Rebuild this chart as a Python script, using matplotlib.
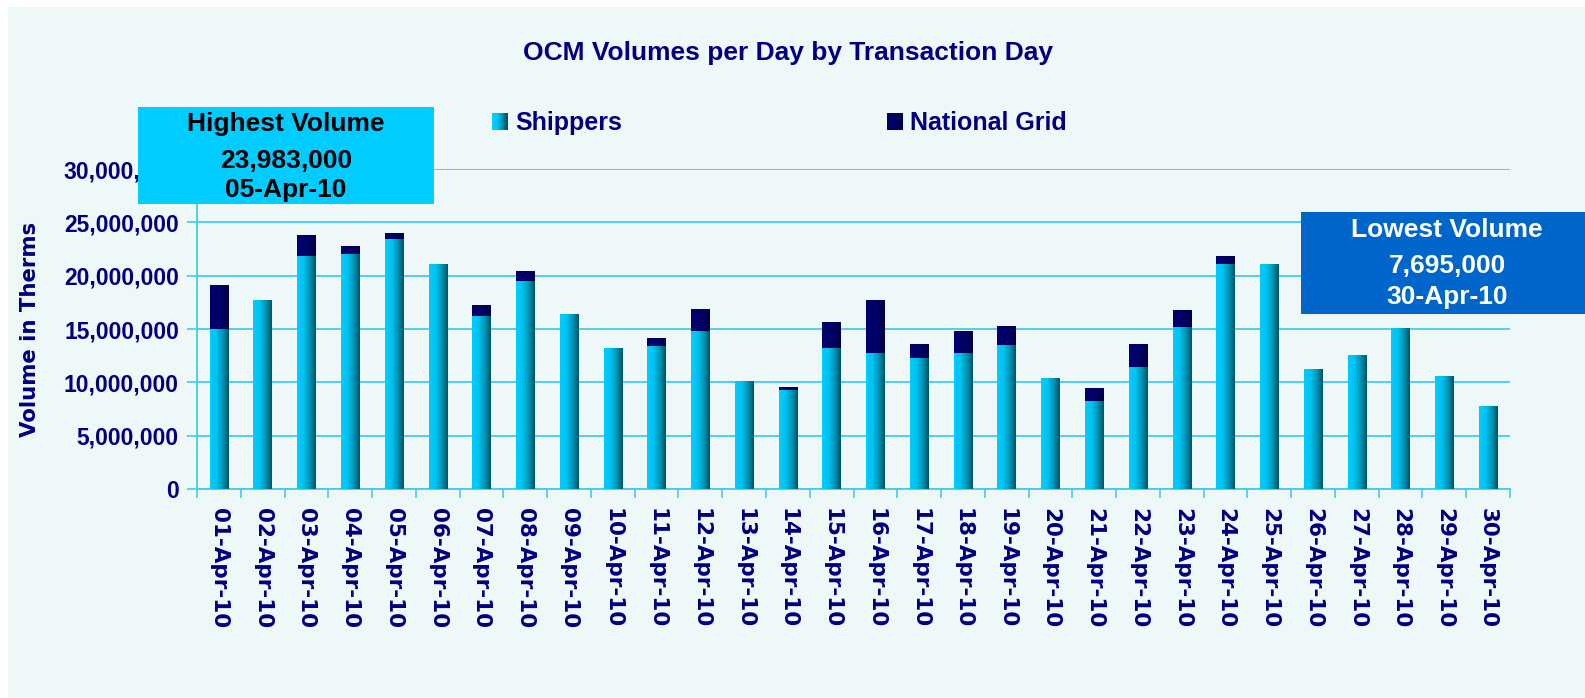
import numpy as np
import matplotlib
matplotlib.use("Agg")
import matplotlib.pyplot as plt
from matplotlib.patches import Rectangle
from matplotlib.legend_handler import HandlerBase
from matplotlib.colors import LinearSegmentedColormap
from matplotlib.ticker import FuncFormatter, FixedLocator

# ---------------- data ----------------
days = [f"{d:02d}-Apr-10" for d in range(1, 31)]
shippers = [15.0, 17.63, 21.86, 22.05, 23.47, 21.02, 16.22, 19.51, 16.32, 13.13,
            13.41, 14.81, 10.11, 9.25, 13.2, 12.74, 12.26, 12.74, 13.49, 10.38,
            8.22, 11.42, 15.18, 21.1, 21.02, 11.23, 12.55, 15.09, 10.57, 7.695]
national_grid = [4.04, 0.0, 1.89, 0.75, 0.513, 0.0, 0.94, 0.85, 0.0, 0.0,
                 0.75, 2.06, 0.0, 0.2, 2.36, 4.89, 1.23, 1.97, 1.78, 0.0,
                 1.13, 2.07, 1.51, 0.67, 0.0, 0.0, 0.0, 0.0, 0.0, 0.0]
shippers = [v * 1e6 for v in shippers]
national_grid = [v * 1e6 for v in national_grid]
yticks = [0, 5e6, 10e6, 15e6, 20e6, 25e6, 30e6]

title = "OCM Volumes per Day by Transaction Day"
high_txt = ["Highest Volume", "23,983,000", "05-Apr-10"]
low_txt = ["Lowest Volume", "7,695,000", "30-Apr-10"]

NAVY = "#000080"
BOLD = ["Liberation Sans", "DejaVu Sans"]
GRID = "#44CCEE"

W, H = 1585, 698
fig = plt.figure(figsize=(W / 100, H / 100), dpi=100, facecolor="white")
# background panel
fig.add_artist(Rectangle((8 / W, 0), 1, 1 - 7 / H, transform=fig.transFigure,
                         facecolor="#EFF8F9", edgecolor="none", zorder=0))

AX_L, AX_R, AX_T, AX_B = 197, 1510, 169, 489
ax = fig.add_axes([AX_L / W, 1 - AX_B / H, (AX_R - AX_L) / W, (AX_B - AX_T) / H])
ax.set_facecolor("none")

x = np.arange(len(days))
bw = 0.42
b1 = ax.bar(x, shippers, width=bw, color="#00A8D0", zorder=3)
b2 = ax.bar(x, national_grid, width=bw, bottom=shippers, color="#000066", zorder=3)

cm_ship = LinearSegmentedColormap.from_list("s", ["#00CCFF", "#00C4F0", "#0096B8", "#005566"])
cm_ng = LinearSegmentedColormap.from_list("n", ["#000070", "#000066", "#00004A"])
grad = np.linspace(0, 1, 64).reshape(1, -1)
for bars, cm in ((b1, cm_ship), (b2, cm_ng)):
    for p in bars:
        if p.get_height() <= 0:
            p.set_visible(False)
            continue
        x0, y0 = p.get_x(), p.get_y()
        ax.imshow(grad, cmap=cm, aspect="auto", interpolation="bilinear",
                  extent=(x0, x0 + p.get_width(), y0, y0 + p.get_height()),
                  zorder=3)
        p.set_facecolor("none")
ax.set_xlim(-0.5, len(days) - 0.5)
ax.set_ylim(0, 30e6)

# grid & spines
ax.yaxis.set_major_locator(FixedLocator(yticks))
ax.yaxis.set_major_formatter(FuncFormatter(lambda v, p: f"{int(v):,}"))
ax.grid(axis="y", color=GRID, linewidth=1.3, zorder=1)
for s in ("top", "right"):
    ax.spines[s].set_visible(False)
for s in ("left", "bottom"):
    ax.spines[s].set_color(GRID)
    ax.spines[s].set_linewidth(1.3)

ax.set_xticks(x)
ax.set_xticklabels(days, rotation=-90, fontsize=15.5, fontweight="bold",
                   color=NAVY, family="DejaVu Sans", va="top", ha="center")
ax.set_xticks(np.arange(-0.5, len(days), 1.0), minor=True)
ax.tick_params(axis="x", which="major", length=0, pad=14)
ax.tick_params(axis="x", which="minor", length=6.5, color=GRID, width=1.2)
ax.tick_params(axis="y", length=7, color=GRID, width=1.2, pad=6)
for lab in ax.get_yticklabels():
    lab.set_fontsize(16.5)
    lab.set_fontweight("bold")
    lab.set_color(NAVY)
    lab.set_family(BOLD)

ax.set_ylabel("Volume in Therms", fontsize=15.3, fontweight="bold", color=NAVY,
              family="DejaVu Sans")
ax.yaxis.set_label_coords((30 - AX_L) / (AX_R - AX_L), 0.5)
ax.yaxis.label.set_va("center")

fig.text(788 / W, 1 - 53 / H, title, ha="center", va="center", fontsize=19,
         fontweight="bold", color=NAVY, family=BOLD)


# legend with gradient handles
class GradHandler(HandlerBase):
    def __init__(self, colors):
        super().__init__()
        self.colors = colors

    def create_artists(self, legend, orig_handle, xdescent, ydescent, width,
                       height, fontsize, trans):
        n = len(self.colors)
        arts = []
        for i, c in enumerate(self.colors):
            r = Rectangle((-xdescent + width * i / n, -ydescent), width / n + 0.3,
                          height, facecolor=c, edgecolor="none", transform=trans)
            arts.append(r)
        return arts


ship_cols = [cm_ship(v) for v in np.linspace(0, 1, 10)]
ng_cols = [cm_ng(v) for v in np.linspace(0, 1, 10)]
h1 = Rectangle((0, 0), 1, 1)
h2 = Rectangle((0, 0), 1, 1)
leg = fig.legend([h1, h2], ["Shippers", "National Grid"], ncol=2,
                 handler_map={h1: GradHandler(ship_cols), h2: GradHandler(ng_cols)},
                 loc="center left", bbox_to_anchor=(492 / W, 1 - 123 / H),
                 frameon=False, borderpad=0, borderaxespad=0,
                 handlelength=0.62, handleheight=0.7, handletextpad=0.3,
                 columnspacing=10.6,
                 prop={"family": BOLD, "weight": "bold", "size": 18})
for t in leg.get_texts():
    t.set_color(NAVY)

# annotation boxes
fig.add_artist(Rectangle((138 / W, 1 - 204 / H), 296 / W, 97 / H,
                         transform=fig.transFigure, facecolor="#00CCFF",
                         edgecolor="none", zorder=5))
for txt, yy in zip(high_txt, [124, 161, 190]):
    fig.text(286 / W, 1 - yy / H, txt, ha="center", va="center", fontsize=19,
             fontweight="bold", color="black", family=BOLD, zorder=6)

fig.add_artist(Rectangle((1301 / W, 1 - 314 / H), 290 / W, 102 / H,
                         transform=fig.transFigure, facecolor="#0066CC",
                         edgecolor="none", zorder=5))
for txt, yy in zip(low_txt, [230, 266, 297]):
    fig.text(1447 / W, 1 - yy / H, txt, ha="center", va="center", fontsize=19,
             fontweight="bold", color="white", family=BOLD, zorder=6)

fig.savefig("out.png", dpi=100, facecolor="white")
